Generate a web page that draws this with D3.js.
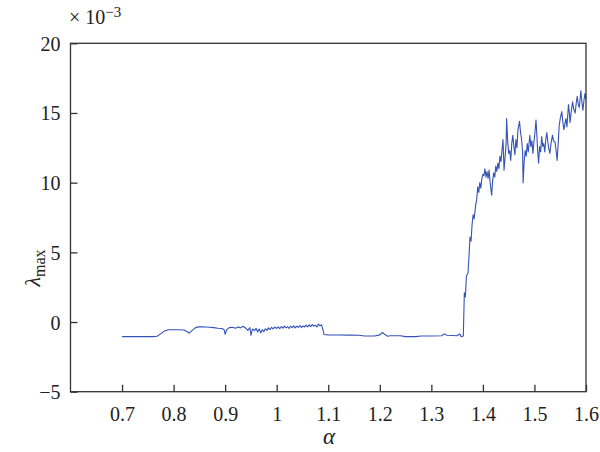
<!DOCTYPE html>
<html><head><meta charset="utf-8">
<script src="https://cdn.jsdelivr.net/npm/d3@7"></script>
<style>
body{margin:0;background:#fff;}
svg{display:block;}
</style></head><body>
<svg id="chart" width="600" height="452"></svg>
<script>
const xTicks = [0.7,0.8,0.9,1,1.1,1.2,1.3,1.4,1.5,1.6];
const yTicks = [-5,0,5,10,15,20];
const xDomain = [0.6,1.6];
const yDomain = [-5,20];

const alphaLow = [0.70,0.72,0.74,0.76,0.768,0.775,0.782,0.79,0.80,0.81,0.82,0.826,0.830,0.836,0.842,0.848,0.855,0.862,0.87,0.878,0.886,0.894,0.898,0.900,0.903,0.908,0.914,0.920,0.925,0.930,0.935,0.940,0.944,0.948,0.950,0.953,0.957,0.960,0.963,0.966,0.969,0.972,0.975,0.978,0.981,0.984,0.987,0.990,0.993,0.996,1.000,1.003,1.006,1.009,1.012,1.015,1.018,1.021,1.024,1.027,1.030,1.033,1.036,1.039,1.042,1.045,1.048,1.051,1.054,1.057,1.060,1.063,1.066,1.069,1.072,1.075,1.078,1.081,1.084,1.087,1.089,1.092,1.10,1.12,1.14,1.16,1.17,1.19,1.200,1.205,1.210,1.215,1.22,1.24,1.25,1.27,1.28,1.30,1.32,1.325,1.33,1.35,1.355,1.358,1.362];
const lambdaLow = [-1.05,-1.05,-1.05,-1.05,-1.02,-0.85,-0.65,-0.55,-0.55,-0.56,-0.57,-0.68,-0.80,-0.60,-0.42,-0.35,-0.34,-0.36,-0.38,-0.40,-0.45,-0.46,-0.55,-0.88,-0.55,-0.40,-0.38,-0.45,-0.35,-0.42,-0.30,-0.45,-0.60,-0.40,-0.95,-0.50,-0.62,-0.45,-0.72,-0.50,-0.78,-0.55,-0.70,-0.48,-0.60,-0.42,-0.55,-0.38,-0.50,-0.36,-0.46,-0.35,-0.48,-0.32,-0.44,-0.30,-0.42,-0.33,-0.46,-0.30,-0.40,-0.28,-0.42,-0.30,-0.38,-0.25,-0.40,-0.28,-0.36,-0.22,-0.35,-0.20,-0.33,-0.18,-0.30,-0.22,-0.35,-0.15,-0.28,-0.20,-0.45,-0.90,-0.92,-0.93,-0.94,-0.95,-1.00,-1.00,-0.92,-0.75,-0.90,-1.02,-0.98,-0.98,-1.05,-1.05,-1.00,-1.00,-0.98,-0.85,-0.95,-0.98,-0.85,-1.05,-1.00];

const alphaRise = [1.364,1.366,1.368,1.371,1.373,1.375,1.377,1.379,1.381,1.383,1.386,1.388,1.390,1.392,1.394,1.396,1.398];
const lambdaRise = [2.1,1.8,3.3,3.5,4.7,6.1,5.8,7.0,7.7,7.4,8.4,8.8,9.7,9.3,10.0,9.6,10.3];

const alphaHigh = [1.400,1.402,1.404,1.406,1.408,1.410,1.412,1.414,1.417,1.419,1.421,1.423,1.425,1.427,1.429,1.431,1.433,1.435,1.437,1.439,1.441,1.443,1.445,1.446,1.448,1.450,1.452,1.454,1.456,1.458,1.460,1.462,1.464,1.466,1.468,1.471,1.473,1.475,1.477,1.478,1.480,1.482,1.484,1.486,1.488,1.491,1.493,1.495,1.497,1.499,1.501,1.503,1.505,1.506,1.508,1.510,1.512,1.514,1.516,1.518,1.520,1.522,1.524,1.526,1.528,1.530,1.532,1.535,1.537,1.540,1.542,1.544,1.546,1.548,1.550,1.553,1.555,1.557,1.559,1.561,1.563,1.566,1.568,1.569,1.571,1.574,1.576,1.579,1.581,1.583,1.585,1.587,1.590,1.592,1.594,1.596,1.598,1.600];
const lambdaHigh = [10.6,10.5,11.0,10.4,10.8,10.3,10.9,10.0,9.1,10.2,10.7,10.4,11.2,10.8,11.4,11.0,11.9,11.5,12.3,13.1,10.9,11.8,12.8,14.6,13.0,12.1,12.3,11.6,12.8,13.4,12.6,12.0,13.1,12.5,13.8,14.4,13.6,13.1,12.2,10.0,11.5,12.3,11.9,12.8,12.2,13.4,12.6,13.0,12.1,12.9,13.6,14.5,13.2,12.4,11.4,12.6,12.2,13.3,12.6,12.8,12.2,13.1,13.6,12.9,12.4,12.1,12.8,13.4,13.0,12.9,12.3,11.6,12.8,14.1,14.6,15.1,14.4,13.8,14.2,14.6,14.0,15.6,14.9,14.3,15.0,15.8,15.3,15.0,15.7,16.2,15.6,15.4,16.6,15.8,15.2,15.9,16.4,16.0];

const alphaAll = alphaLow.concat(alphaRise, alphaHigh);
const lambdaAll = lambdaLow.concat(lambdaRise, lambdaHigh);
const data = alphaAll.map((a,i)=>({a, v: lambdaAll[i]}));

const FONT = "'Liberation Serif', 'Times New Roman', serif";
const L=70.5, R=586, T=43.3, B=391.7;
const svg = d3.select("#chart");
const x = d3.scaleLinear().domain(xDomain).range([L,R]);
const y = d3.scaleLinear().domain(yDomain).range([B,T]);

svg.append("path").datum(data)
  .attr("fill","none").attr("stroke","#3452b8").attr("stroke-width",1.1)
  .attr("stroke-linejoin","round")
  .attr("d", d3.line().x(d=>x(d.a)).y(d=>y(d.v)));

const xa = svg.append("g").attr("transform",`translate(0,${B})`)
  .call(d3.axisBottom(x).tickValues(xTicks).tickFormat(d3.format("~g")).tickSizeInner(-7).tickSizeOuter(0).tickPadding(15));
const ya = svg.append("g").attr("transform",`translate(${L},0)`)
  .call(d3.axisLeft(y).tickValues(yTicks).tickFormat(d=> d<0 ? "\u2212"+Math.abs(d) : d).tickSizeInner(-7).tickSizeOuter(0).tickPadding(10));
[xa,ya].forEach(g=>{
  g.attr("font-family",FONT).attr("font-size",20);
  g.select(".domain").remove();
  g.selectAll(".tick line").attr("stroke","#333").attr("stroke-width",1.3);
  g.selectAll(".tick text").style("font-family",FONT).style("font-size","20px").attr("fill","#222");
});
xa.selectAll(".tick text").attr("dy","0.71em");
ya.selectAll(".tick text").attr("dy","0.35em");

svg.append("rect").attr("x",L).attr("y",T).attr("width",R-L).attr("height",B-T)
  .attr("fill","none").attr("stroke","#333").attr("stroke-width",1.3);

const ex = svg.append("text").attr("x",69).attr("y",24)
  .style("font-family",FONT).style("font-size","20px").attr("fill","#222");
ex.append("tspan").text("\u00d7 10");
ex.append("tspan").attr("dy",-7).style("font-size","15px").text("\u22123");

svg.append("text").attr("x",329).attr("y",444).attr("text-anchor","middle")
  .style("font-family",FONT).style("font-style","italic").style("font-size","23px").attr("fill","#222").text("\u03b1");

const yl = svg.append("text").attr("transform","translate(40,268) rotate(-90)").attr("text-anchor","middle")
  .style("font-family",FONT).style("font-size","22px").attr("fill","#222");
yl.append("tspan").style("font-style","italic").text("\u03bb");
yl.append("tspan").attr("dy",5).style("font-size","16px").text("max");
</script>
</body></html>
